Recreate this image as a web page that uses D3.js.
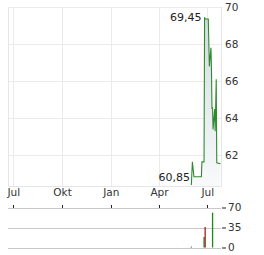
<!DOCTYPE html>
<html>
<head>
<meta charset="utf-8">
<script src="https://cdn.jsdelivr.net/npm/d3@7"></script>
<style>
  body { margin: 0; background: #fff; }
  svg { display: block; font-family: "DejaVu Sans", sans-serif; }
</style>
</head>
<body>
<script>
// price series
const priceDates = ["2024-06-01", "2024-06-03", "2024-06-06", "2024-06-20", "2024-06-21", "2024-06-25",
  "2024-06-26", "2024-06-27", "2024-07-03", "2024-07-05", "2024-07-08", "2024-07-09", "2024-07-10",
  "2024-07-11", "2024-07-12", "2024-07-15", "2024-07-16", "2024-07-18", "2024-07-19", "2024-07-26"];
const priceValues = [60.4, 61.65, 60.85, 60.85, 61.65, 61.65,
  69.45, 69.35, 69.35, 66.8, 67.8, 66.7, 64.5,
  64.6, 63.4, 64.5, 63.3, 66.1, 61.6, 61.55];

// volume bars
const volDates = ["2024-06-01", "2024-06-25", "2024-06-27", "2024-07-11"];
const volValues = [1.5, 18.5, 36, 61];
const volDir = ["down", "up", "down", "up"];

const xTickDates = ["2023-07-01", "2023-10-01", "2024-01-01", "2024-04-01", "2024-07-01"];
const xTickLabels = ["Jul", "Okt", "Jan", "Apr", "Jul"];
const yTicks = [62, 64, 66, 68, 70];
const volTicks = [0, 35, 70];
const maxLabel = "69,45";
const minLabel = "60,85";

const parse = d3.timeParse("%Y-%m-%d");
const prices = priceDates.map((d, i) => ({ date: parse(d), value: priceValues[i] }));
const vols = volDates.map((d, i) => ({ date: parse(d), value: volValues[i], dir: volDir[i] }));

const width = 264, height = 255;
const left = 8, right = 221;

const svg = d3.select("body").append("svg")
  .attr("width", width)
  .attr("height", height);

const x = d3.scaleTime()
  .domain([parse("2023-06-21"), parse("2024-07-27")])
  .range([left, right]);

const y = d3.scaleLinear()
  .domain([60.35, 70])
  .range([186, 7]);

const yv = d3.scaleLinear()
  .domain([0, 70])
  .range([247.5, 207.5]);

// grid
const grid = svg.append("g");
grid.selectAll(".vg")
  .data(xTickDates)
  .join("line")
  .attr("x1", d => Math.round(x(parse(d))) + 0.5)
  .attr("x2", d => Math.round(x(parse(d))) + 0.5)
  .attr("y1", 7)
  .attr("y2", 186)
  .attr("stroke", "#ebebeb");

grid.selectAll(".hg")
  .data(yTicks)
  .join("line")
  .attr("x1", left)
  .attr("x2", right)
  .attr("y1", d => Math.round(y(d)) + 0.5)
  .attr("y2", d => Math.round(y(d)) + 0.5)
  .attr("stroke", "#ebebeb");

// frame
svg.append("path")
  .attr("d", `M${left + 0.5},7V186.5H${right + 0.5}V7`)
  .attr("fill", "none")
  .attr("stroke", "#e6e6e6");

// area + line
const defs = svg.append("defs");
const grad = defs.append("linearGradient")
  .attr("id", "fillGrad")
  .attr("x1", 0).attr("x2", 0).attr("y1", 0).attr("y2", 1);
grad.append("stop").attr("offset", "0%").attr("stop-color", "#d3dbe1");
grad.append("stop").attr("offset", "100%").attr("stop-color", "#f8fafb");

const area = d3.area()
  .x(d => x(d.date))
  .y0(186)
  .y1(d => y(d.value));

svg.append("path")
  .datum(prices)
  .attr("d", area)
  .attr("fill", "url(#fillGrad)");

const line = d3.line()
  .x(d => x(d.date))
  .y(d => y(d.value));

svg.append("path")
  .datum(prices)
  .attr("d", line)
  .attr("fill", "none")
  .attr("stroke", "#2f8a2f")
  .attr("stroke-width", 1.1);

// min / max labels
const maxP = prices[d3.maxIndex(prices, d => d.value)];
const minP = prices.filter(d => d.value > 60.5)[d3.minIndex(prices.filter(d => d.value > 60.5), d => d.value)];

svg.append("text")
  .attr("x", x(maxP.date) - 3)
  .attr("y", y(maxP.value))
  .attr("dy", "0.35em")
  .attr("text-anchor", "end")
  .attr("font-size", 11)
  .attr("fill", "#222")
  .text(maxLabel);

svg.append("text")
  .attr("x", x(minP.date) - 4)
  .attr("y", y(minP.value))
  .attr("dy", "0.35em")
  .attr("text-anchor", "end")
  .attr("font-size", 11)
  .attr("fill", "#222")
  .text(minLabel);

// y axis right
const yAxis = svg.append("g")
  .attr("transform", `translate(${right + 4},0)`)
  .call(d3.axisRight(y).tickValues(yTicks).tickSize(0).tickPadding(0).tickFormat(d3.format("d")));
yAxis.select(".domain").remove();
yAxis.selectAll("text").attr("font-size", 10.5).attr("fill", "#333").attr("font-family", "DejaVu Sans");

// x axis labels
const xAxis = svg.append("g")
  .attr("transform", "translate(0,189)")
  .call(d3.axisBottom(x).tickValues(xTickDates.map(parse)).tickSize(0).tickPadding(0)
    .tickFormat((d, i) => xTickLabels[i]));
xAxis.select(".domain").remove();
xAxis.selectAll("text").attr("font-size", 10.5).attr("fill", "#333").attr("font-family", "DejaVu Sans");

// volume grid
svg.append("g").selectAll("line")
  .data(volTicks)
  .join("line")
  .attr("x1", left)
  .attr("x2", right)
  .attr("y1", d => Math.round(yv(d)) + 0.5)
  .attr("y2", d => Math.round(yv(d)) + 0.5)
  .attr("stroke", "#c8c8c8");

// small month ticks above volume panel
svg.append("g").selectAll("line")
  .data(xTickDates)
  .join("line")
  .attr("x1", d => Math.round(x(parse(d))) + 0.5)
  .attr("x2", d => Math.round(x(parse(d))) + 0.5)
  .attr("y1", 205)
  .attr("y2", 208)
  .attr("stroke", "#222");

// volume bars
svg.append("g").selectAll("rect")
  .data(vols)
  .join("rect")
  .attr("x", d => x(d.date) - 0.6)
  .attr("width", 1.3)
  .attr("y", d => yv(d.value))
  .attr("height", d => yv(0) - yv(d.value))
  .attr("fill", d => d.dir === "up" ? "#1a8a1a" : "#a82020");

// volume axis
const vAxis = svg.append("g")
  .attr("transform", `translate(${right + 1},0)`)
  .call(d3.axisRight(yv).tickValues(volTicks).tickSize(4).tickPadding(2).tickFormat(d3.format("d")));
vAxis.select(".domain").remove();
vAxis.selectAll("line").attr("stroke", "#222");
vAxis.selectAll("text").attr("font-size", 10.5).attr("fill", "#333").attr("font-family", "DejaVu Sans");
</script>
</body>
</html>
